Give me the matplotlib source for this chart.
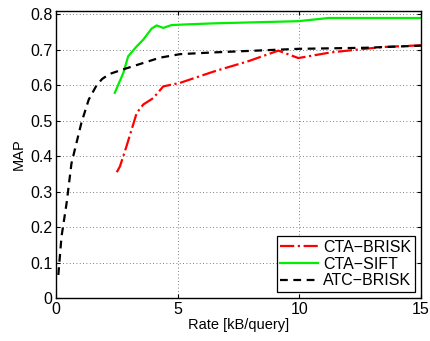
import matplotlib
matplotlib.use("Agg")
import matplotlib.pyplot as plt

# CTA-BRISK (red dash-dot)
cta_brisk_x = [2.5, 2.63, 2.9, 3.32, 3.59, 4.0, 4.41, 5.1, 6.53, 7.9, 9.14, 9.96, 11.3, 13.4, 15.0]
cta_brisk_y = [0.355, 0.371, 0.428, 0.522, 0.546, 0.564, 0.597, 0.607, 0.640, 0.668, 0.698, 0.677, 0.693, 0.708, 0.713]

# CTA-SIFT (green solid)
cta_sift_x = [2.42, 2.77, 2.97, 3.32, 3.59, 3.93, 4.14, 4.41, 4.75, 5.37, 6.53, 9.96, 11.2, 15.0]
cta_sift_y = [0.579, 0.635, 0.682, 0.710, 0.729, 0.760, 0.769, 0.762, 0.770, 0.772, 0.775, 0.781, 0.790, 0.790]

# ATC-BRISK (black dashed)
atc_brisk_x = [0.1, 0.23, 0.44, 0.64, 1.05, 1.35, 1.67, 1.9, 2.2, 2.76, 4.27, 5.1, 6.5, 9.96, 12.7, 15.0]
atc_brisk_y = [0.065, 0.173, 0.268, 0.38, 0.495, 0.560, 0.600, 0.618, 0.632, 0.645, 0.678, 0.688, 0.693, 0.703, 0.706, 0.712]

plt.rcParams["font.family"] = ["Liberation Sans", "DejaVu Sans"]
plt.rcParams["font.size"] = 11.5

fig = plt.figure(figsize=(4.3, 3.41), dpi=100)
ax = fig.add_axes([0.130, 0.126, 0.849, 0.842])

ax.plot(cta_brisk_x, cta_brisk_y, color="red", linestyle="-.", linewidth=1.6, label="CTA\u2212BRISK")
ax.plot(cta_sift_x, cta_sift_y, color="#00ee00", linestyle="-", linewidth=1.6, label="CTA\u2212SIFT")
ax.plot(atc_brisk_x, atc_brisk_y, color="black", linestyle=(0, (3.5, 2.5)), linewidth=1.6, label="ATC\u2212BRISK")

ax.set_xlim(0, 15)
ax.set_ylim(0, 0.81)
ax.set_xticks([0, 5, 10, 15])
ax.set_yticks([0, 0.1, 0.2, 0.3, 0.4, 0.5, 0.6, 0.7, 0.8])
ax.set_yticklabels(["0", "0.1", "0.2", "0.3", "0.4", "0.5", "0.6", "0.7", "0.8"])
ax.tick_params(direction="in", top=True, right=True, length=3, width=0.8, pad=2.5)
ax.grid(True, linestyle=(0, (1, 3)), color="#555555", linewidth=0.6)
for s in ax.spines.values():
    s.set_linewidth(1.0)

ax.set_xlabel("Rate [kB/query]", labelpad=1, fontsize=10.5)
ax.set_ylabel("MAP", labelpad=3, fontsize=10.5)

leg = ax.legend(loc="lower right", fancybox=False, edgecolor="black", framealpha=1,
                borderaxespad=0.4, handlelength=2.4, handletextpad=0.3,
                labelspacing=0.12, borderpad=0.2, fontsize=11.5)
leg.get_frame().set_linewidth(0.9)

fig.savefig("out.png", dpi=100)
